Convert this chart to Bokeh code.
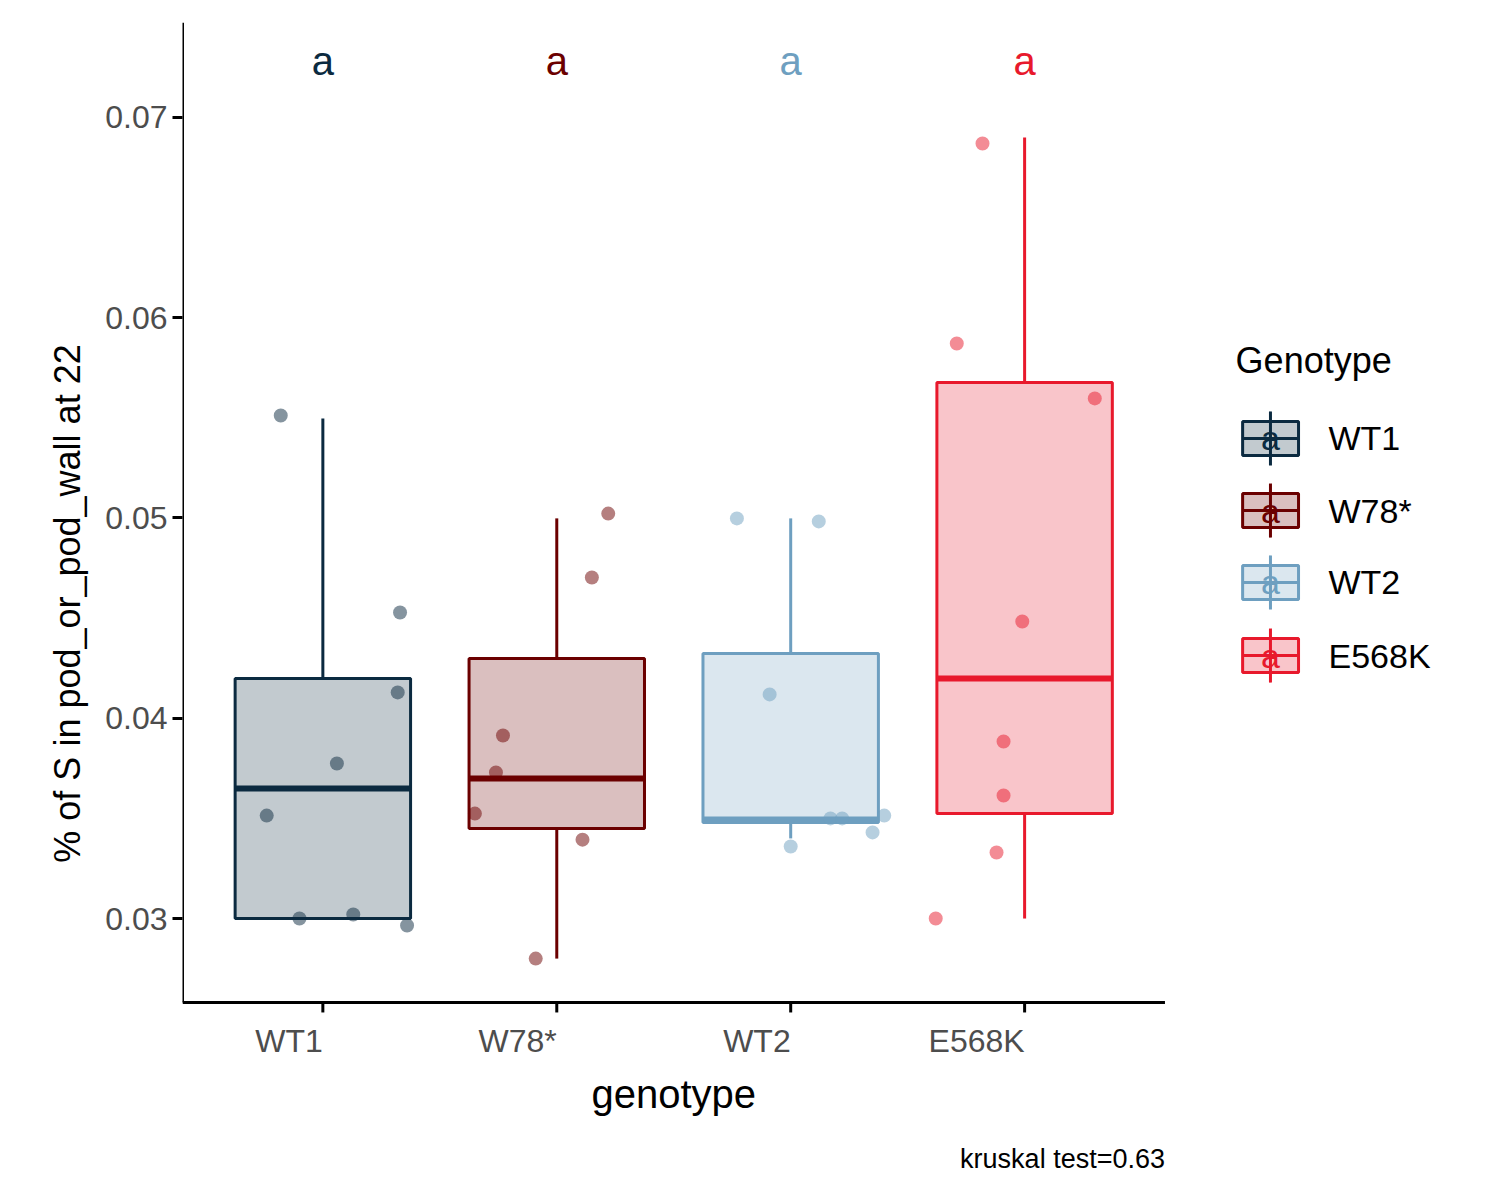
from bokeh.plotting import figure
from bokeh.models import FixedTicker, ColumnDataSource
from bokeh.core.properties import value
from bokeh.embed import file_html
from bokeh.resources import INLINE

genotypes = ["WT1", "W78*", "WT2", "E568K"]
colors = ["#0b2a40", "#6b0000", "#6e9fc0", "#e8192c"]
box_low = [0.0300, 0.03449, 0.03479, 0.03524]
box_high = [0.04199, 0.04298, 0.04323, 0.05677]
box_med = [0.03649, 0.03699, 0.03494, 0.04199]
whisk_low = [0.0300, 0.0280, 0.0340, 0.0300]
whisk_high = [0.05497, 0.04998, 0.04998, 0.0690]
letters = ["a", "a", "a", "a"]
pts_x = [
    [-0.18, -0.24, -0.10, 0.06, 0.13, 0.32, 0.33, 0.36],
    [0.22, 0.15, -0.23, -0.26, -0.35, 0.11, -0.09],
    [-0.23, 0.12, -0.09, 0.17, 0.22, 0.40, 0.35, 0.0],
    [-0.18, -0.29, 0.30, -0.01, -0.09, -0.09, -0.12, -0.38],
]
pts_y = [
    [0.05512, 0.03514, 0.0300, 0.03774, 0.0302, 0.04129, 0.04528, 0.02965],
    [0.05022, 0.04703, 0.03914, 0.03729, 0.03524, 0.03394, 0.0280],
    [0.04998, 0.04983, 0.04119, 0.0350, 0.0350, 0.03514, 0.0343, 0.0336],
    [0.0687, 0.05871, 0.05597, 0.04483, 0.03884, 0.03614, 0.0333, 0.0300],
]
y_ticks = [0.03, 0.04, 0.05, 0.06, 0.07]

Y0, Y1 = 0.02581, 0.07474
X0, X1 = 0.4, 4.6
FONT = value("Liberation Sans")

p = figure(width=1484, height=1184, output_backend="svg", toolbar_location=None,
           x_range=(0.4, 5.966), y_range=(0.01672, 0.07474),
           min_border_left=182, min_border_top=22, min_border_right=0, min_border_bottom=0)
p.outline_line_color = None
p.grid.grid_line_color = None
p.xaxis.visible = False

# axes lines drawn as glyphs
p.segment(X0, Y0, X1, Y0, line_color="black", line_width=3)
p.segment(X0, Y0, X0, Y1, line_color="black", line_width=3)
p.segment([1, 2, 3, 4], [Y0] * 4, [1, 2, 3, 4], [Y0 - 0.0005] * 4, line_color="black", line_width=3)
p.text([1, 2, 3, 4], [0.02391] * 4, text=genotypes, text_color="#4d4d4d", text_font_size="32px",
       text_align="right", text_baseline="middle", text_font=FONT)
p.text([2.5], [0.02126], text=["genotype"], text_color="black", text_font_size="40px",
       text_align="center", text_baseline="middle", text_font=FONT)
p.text([4.6], [0.01801], text=["kruskal test=0.63"], text_color="black", text_font_size="27px",
       text_align="right", text_baseline="middle", text_font=FONT)

leg_y = [0.05397, 0.05037, 0.04678, 0.04313]
p.text([4.902], [0.05787], text=["Genotype"], text_color="black", text_font_size="36px",
       text_align="left", text_baseline="middle", text_font=FONT)

for i, g in enumerate(genotypes):
    x = i + 1
    c = colors[i]
    p.segment(x, box_high[i], x, whisk_high[i], line_color=c, line_width=3)
    p.segment(x, whisk_low[i], x, box_low[i], line_color=c, line_width=3)
    p.quad(left=x - 0.375, right=x + 0.375, bottom=box_low[i], top=box_high[i],
           fill_color=c, fill_alpha=0.25, line_color=c, line_width=3)
    p.segment(x - 0.375, box_med[i], x + 0.375, box_med[i], line_color=c, line_width=6)
    src = ColumnDataSource(dict(x=[x + d for d in pts_x[i]], y=pts_y[i]))
    p.scatter("x", "y", source=src, size=14, fill_color=c, fill_alpha=0.5, line_color=None)
    p.text([x], [0.0728], text=[letters[i]], text_color=c, text_font_size="40px",
           text_align="center", text_baseline="middle", text_font=FONT)
    # legend key
    ly = leg_y[i]
    p.segment(5.051, ly - 0.00135, 5.051, ly + 0.00135, line_color=c, line_width=3)
    p.quad(left=4.932, right=5.171, bottom=ly - 0.00085, top=ly + 0.00085,
           fill_color=c, fill_alpha=0.25, line_color=c, line_width=3)
    p.segment(4.932, ly, 5.171, ly, line_color=c, line_width=3)
    p.text([5.051], [ly], text=[letters[i]], text_color=c, text_font_size="34px",
           text_align="center", text_baseline="middle", text_font=FONT)
    p.text([5.299], [ly], text=[g], text_color="black", text_font_size="34px",
           text_align="left", text_baseline="middle", text_font=FONT)

p.yaxis.ticker = FixedTicker(ticks=y_ticks)
p.yaxis.major_label_overrides = {t: f"{t:.2f}" for t in y_ticks}
p.yaxis.major_label_text_font_size = "32px"
p.yaxis.major_label_text_color = "#4d4d4d"
p.yaxis.major_label_text_font = "Liberation Sans"
p.yaxis.axis_label = "% of S in pod_or_pod_wall at 22"
p.yaxis.axis_label_text_font_size = "36px"
p.yaxis.axis_label_text_color = "black"
p.yaxis.axis_label_text_font = "Liberation Sans"
p.yaxis.axis_label_text_font_style = "normal"
p.yaxis.axis_label_standoff = 14
p.yaxis.axis_line_color = None
p.yaxis.major_tick_line_width = 3
p.yaxis.major_tick_line_color = "black"
p.yaxis.major_tick_out = 10
p.yaxis.major_tick_in = 0
p.yaxis.minor_tick_line_color = None

open("out.html", "w").write(file_html(p, INLINE))
